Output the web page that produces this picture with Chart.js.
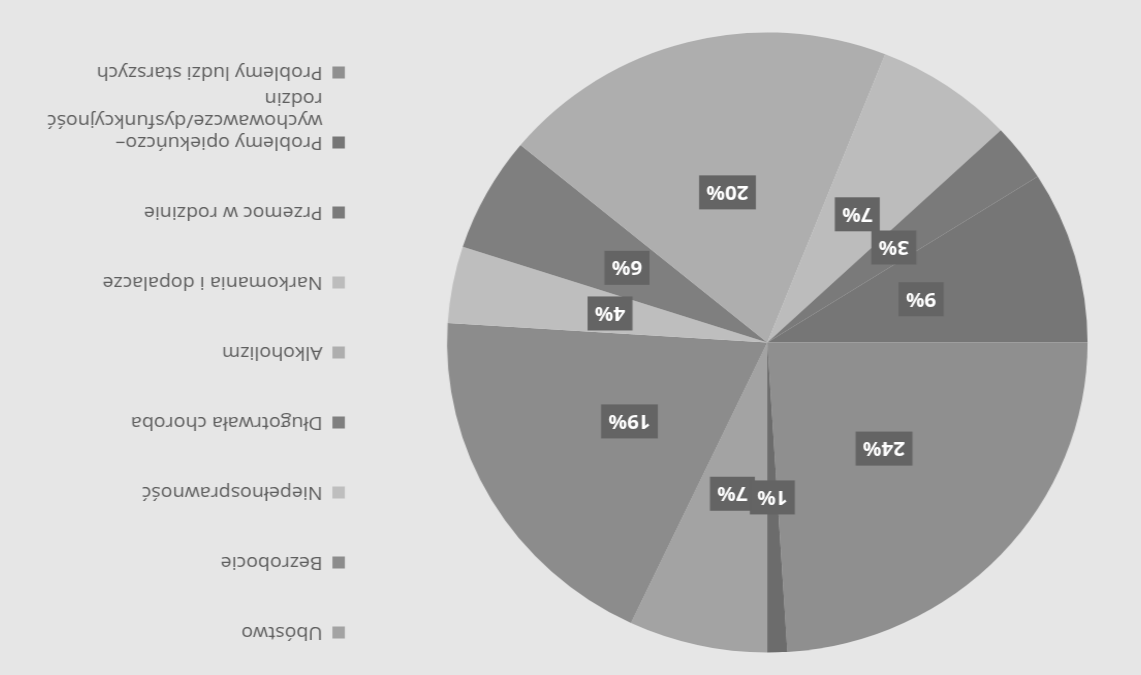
<!doctype html>
<html>

<head>
    <meta charset="utf-8" />
    <title>Powody udzielania pomocy</title>
    <script src="https://cdn.jsdelivr.net/npm/chart.js@4.4.1/dist/chart.umd.min.js"></script>
    <style>
        html, body { margin: 0; padding: 0; background: #e6e6e6; }
        /* the scanned page is upside down and a bit stretched sideways */
        #scan { position: absolute; left: 0; top: 0; width: 1141px; height: 675px; overflow: hidden;
                background: #e6e6e6; transform: rotate(180deg) scale(1.033, 1); }
        #pie { position: absolute; left: -25px; top: 0; }
    </style>
</head>

<body>
    <div id="scan"><canvas id="pie" width="1141" height="675"></canvas></div>
    <script>
        const categories = [
            'Ubóstwo',
            'Bezrobocie',
            'Niepełnosprawność',
            'Długotrwała choroba',
            'Alkoholizm',
            'Narkomania i dopalacze',
            'Przemoc w rodzinie',
            ['Problemy opiekuńczo–', 'wychowawcze/dysfunkcyjność', 'rodzin'],
            'Problemy ludzi starszych'
        ];
        // last slice (1%) has no visible legend entry on the scan
        const shares = [7, 19, 4, 6, 20, 7, 3, 9, 24, 1];
        const sliceColors = ['#a3a3a3', '#8c8c8c', '#bebebe', '#7f7f7f', '#aeaeae',
                             '#bcbcbc', '#7a7a7a', '#767676', '#8f8f8f', '#6c6c6c'];

        const legendFont = { family: '"Open Sans", sans-serif', size: 19, lineHeight: '22px' };

        // canvas wide enough that the legend lands where it is on the scan
        const canvas = document.getElementById('pie');
        const mctx = canvas.getContext('2d');
        mctx.font = '19px "Open Sans", sans-serif';
        const longest = Math.max(...categories.flat().map(t => mctx.measureText(t).width));
        canvas.width = Math.round(810 + 4 + 12 + 9.5 + longest + 10);

        // every legend entry gets 3 lines so the rows are spaced like on the scan
        function legendLines(label, i) {
            const lines = [].concat(label);
            while (i < categories.length - 1 && lines.length < 3) lines.push('');
            return lines;
        }

        const sliceLabels = {
            id: 'sliceLabels',
            afterDatasetsDraw(chart) {
                const c = chart.ctx;
                const arcs = chart.getDatasetMeta(0).data;
                c.save();
                c.font = 'bold 20px "Open Sans", sans-serif';
                c.textAlign = 'center';
                c.textBaseline = 'middle';
                arcs.forEach((arc, i) => {
                    const p = arc.tooltipPosition();
                    const txt = shares[i] + '%';
                    const w = c.measureText(txt).width + 14;
                    const h = 34;
                    c.fillStyle = '#646464';
                    c.fillRect(p.x - w / 2, p.y - h / 2, w, h);
                    c.fillStyle = '#ffffff';
                    c.fillText(txt, p.x, p.y + 1);
                });
                c.restore();
            }
        };

        const chart = new Chart(canvas, {
            type: 'pie',
            data: {
                labels: categories,
                datasets: [{
                    data: shares,
                    backgroundColor: sliceColors,
                    borderWidth: 0,
                    radius: 310
                }]
            },
            options: {
                responsive: false,
                animation: false,
                layout: { padding: { left: 0, right: 0, top: 0, bottom: 10 } },
                plugins: {
                    tooltip: { enabled: false },
                    legend: {
                        position: 'right',
                        align: 'start',
                        title: { display: true, text: '', padding: { top: 17, bottom: 0 }, font: { size: 10 } },
                        labels: {
                            boxWidth: 12,
                            boxHeight: 12,
                            padding: 4,
                            color: '#5e5e5e',
                            font: legendFont,
                            generateLabels: (ch) => categories.map((label, i) => ({
                                text: legendLines(label, i),
                                fillStyle: sliceColors[i],
                                strokeStyle: sliceColors[i],
                                lineWidth: 0,
                                fontColor: '#5e5e5e',
                                hidden: false,
                                index: i
                            }))
                        }
                    }
                }
            },
            plugins: [sliceLabels]
        });
    </script>
</body>

</html>
